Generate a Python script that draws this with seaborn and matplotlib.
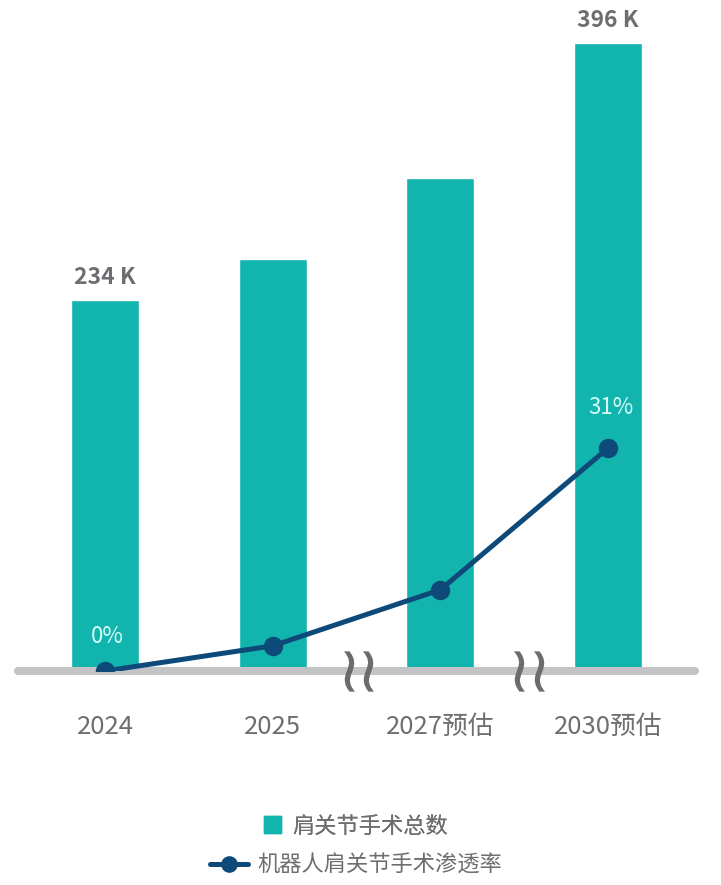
import matplotlib
matplotlib.use("Agg")
import matplotlib.pyplot as plt
from matplotlib.patches import Patch
from matplotlib.lines import Line2D
from matplotlib.markers import MarkerStyle
from matplotlib.transforms import Affine2D
import pandas as pd
import seaborn as sns

# 数据
years = ["2024", "2025", "2027预估", "2030预估"]
surgeries_k = [234, 260, 311, 396]
robot_rate = [0, 3.5, 11.3, 31]
bar_label_idx = [0, 3]
rate_label_idx = [0, 3]

TEAL = "#12b5ae"
NAVY = "#0d4a7a"
GRAY_TXT = "#6d6e71"
GRAY_LINE = "#c3c4c6"
PCT_TXT = "#d6fbf7"


def set_config():
    sns.set_theme(style="white")
    plt.rcParams["font.family"] = ["Noto Sans CJK SC", "DejaVu Sans"]


def draw(df):
    fig = plt.figure(figsize=(7.21, 8.85), dpi=100)
    ax = fig.add_axes([0, 214 / 885, 1, 671 / 885])

    sns.barplot(data=df, x="year", y="surgeries", color=TEAL, width=0.405,
                saturation=1, ax=ax)
    ax.set_xlim(-0.626, 3.673)
    ax.set_ylim(0, 423.2)
    ax.set_xlabel("")
    ax.set_ylabel("")
    ax.set_yticks([])
    for s in ax.spines.values():
        s.set_visible(False)
    ax.tick_params(axis="x", length=0, pad=31, labelsize=18.5, labelcolor=GRAY_TXT)

    # 基线
    ax.plot([-0.52, 3.52], [0, 0], color=GRAY_LINE, lw=5.8,
            solid_capstyle="round", clip_on=False, zorder=5)

    # 断轴符号（竖着的波浪线）
    wave = MarkerStyle(r"$\sim$", transform=Affine2D().rotate_deg(90))
    ax.plot([1.455, 1.568, 2.469, 2.588], [0, 0, 0, 0], ls="none", marker=wave,
            ms=29, color="#6b6c6e", mew=0, clip_on=False, zorder=6)

    for i in bar_label_idx:
        ax.annotate(f"{surgeries_k[i]} K", (i, surgeries_k[i]), xytext=(0, 8),
                    textcoords="offset points", ha="center", va="bottom",
                    fontsize=16.5, fontweight="bold", color=GRAY_TXT)

    ax2 = ax.twinx()
    sns.lineplot(x=list(range(len(years))), y=robot_rate, color=NAVY, lw=3.6,
                 marker="o", markersize=14, markeredgewidth=0, ax=ax2)
    ax2.set_ylim(0, 93.3)
    ax2.set_yticks([])
    for s in ax2.spines.values():
        s.set_visible(False)
    offsets = {0: 25, 3: 29}
    for i in rate_label_idx:
        ax2.annotate(f"{robot_rate[i]}%", (i, robot_rate[i]), xytext=(2, offsets[i]),
                     textcoords="offset points", ha="center", va="center",
                     fontsize=16, color=PCT_TXT)

    # 图例
    leg1 = fig.legend(handles=[Patch(color=TEAL, label="肩关节手术总数")],
                      loc="center", bbox_to_anchor=(356 / 721, 0.0667),
                      frameon=False, fontsize=16, labelcolor=GRAY_TXT,
                      handlelength=0.8, handleheight=0.8, handletextpad=0.5)
    leg2 = fig.legend(handles=[Line2D([], [], color=NAVY, lw=3.6, marker="o",
                                      markersize=12, markeredgewidth=0,
                                      label="机器人肩关节手术渗透率")],
                      loc="center", bbox_to_anchor=(356 / 721, 0.0226),
                      frameon=False, fontsize=16, labelcolor=GRAY_TXT,
                      handlelength=1.7, handletextpad=0.4)
    fig.add_artist(leg1)

    fig.savefig("out.png", dpi=100)


def main():
    set_config()
    df = pd.DataFrame({"year": years, "surgeries": surgeries_k})
    draw(df)


if __name__ == "__main__":
    main()
